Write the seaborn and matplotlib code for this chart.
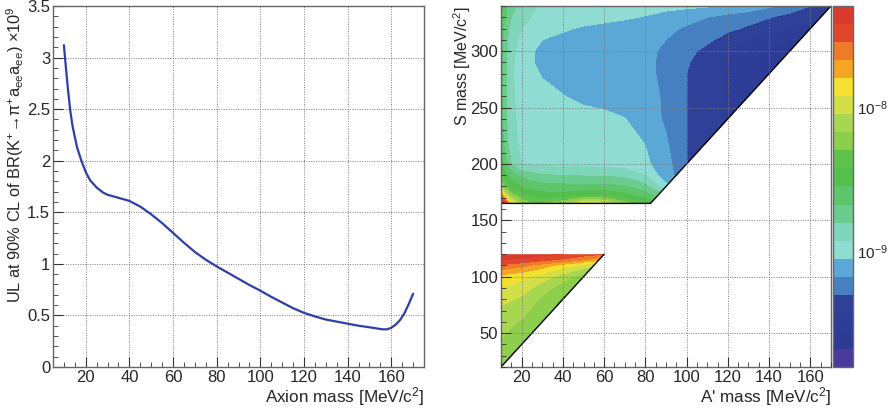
import numpy as np
import matplotlib
matplotlib.use('Agg')
import matplotlib.pyplot as plt
from matplotlib.colors import ListedColormap, LogNorm
from matplotlib.cm import ScalarMappable
from matplotlib.patches import Polygon
from matplotlib.ticker import MultipleLocator, FuncFormatter, FixedLocator, NullFormatter
import seaborn as sns

# ---- left panel: UL on BR(K+ -> pi+ a a) vs axion mass (x 1e-9)
axion_mass = [10, 11, 12, 13, 14, 16, 18, 20, 22, 25, 28, 30, 35, 40, 45, 50, 55, 60, 65, 70,
              75, 80, 85, 90, 95, 100, 105, 110, 115, 120, 125, 130, 135, 140, 145, 150, 153,
              156, 158, 160, 162, 164, 166, 168, 170]
ul_axion = [3.12, 2.88, 2.66, 2.47, 2.33, 2.13, 2.00, 1.89, 1.81, 1.74, 1.69, 1.67, 1.64, 1.61,
            1.555, 1.48, 1.395, 1.30, 1.205, 1.115, 1.04, 0.975, 0.915, 0.855, 0.795, 0.74,
            0.68, 0.625, 0.57, 0.525, 0.49, 0.46, 0.44, 0.42, 0.40, 0.385, 0.375, 0.365, 0.365,
            0.38, 0.41, 0.455, 0.52, 0.61, 0.71]

# ---- right panel: colour scale (log10 of UL), 20 bands
zlog_min = -9.8
zlog_max = -7.3
n_bands = 20
palette = ['#4b3a9d', '#2e3b95', '#2e3d97', '#2f4099', '#4680c0', '#5ba8d6', '#8fdcd2',
           '#7fd6ba', '#6ccb8f', '#5ec56a', '#55bf4d', '#5fc34b', '#8dcf4d', '#a9d650',
           '#d4df48', '#f4e02e', '#f5a524', '#ee7a2a', '#e1462c', '#da3a2c']
cbar_ticks = [1e-9, 1e-8]
cbar_labels = ['10$^{-9}$', '10$^{-8}$']

# region limits (S mass) and lowest A' mass; the other edge is S = 2 A'
a_min = 10
s_range_up = (165, 340)
s_range_lo = (20, 120)

# values read as position on the colour bar (0 = bottom, 20 = top)
a_up = [10, 12, 15, 20, 25, 30, 40, 50, 60, 70, 80, 90, 100, 110, 120, 130, 140, 150, 160, 170]
s_up = [165, 172, 180, 190, 200, 220, 240, 260, 280, 290, 300, 310, 320, 330, 340]
band_up = [
    [20.0, 19.2, 15.5, 13.0, 12.0, 12.0, 12.8, 15.2, 14.6, 12.5, 11.0, 9.5, 8.0, 7.0, 6.0, 5.0, 4.0, 3.0, 3.0, 3.0],
    [18.0, 14.5, 12.5, 11.2, 10.6, 10.4, 10.4, 10.8, 10.8, 10.3, 9.5, 8.0, 7.0, 6.0, 5.0, 4.0, 3.5, 3.0, 3.0, 3.0],
    [13.0, 11.8, 10.8, 10.0, 9.6, 9.4, 9.3, 9.3, 9.3, 9.1, 8.3, 6.3, 5.0, 4.0, 3.5, 3.0, 3.0, 3.0, 3.0, 3.0],
    [11.2, 10.3, 9.5, 8.7, 8.3, 8.1, 7.95, 7.9, 7.85, 7.7, 7.0, 5.3, 4.5, 4.0, 3.5, 3.0, 3.0, 3.0, 3.0, 3.0],
    [10.4, 9.3, 8.0, 6.95, 6.85, 6.8, 6.75, 6.7, 6.65, 6.5, 6.2, 5.4, 4.0, 3.5, 3.0, 2.8, 2.5, 2.5, 2.5, 2.5],
    [9.7, 8.5, 7.3, 6.8, 6.72, 6.68, 6.6, 6.5, 6.4, 6.3, 5.95, 5.1, 4.0, 3.5, 3.0, 2.5, 2.2, 2.0, 2.0, 2.0],
    [9.5, 8.3, 7.2, 6.75, 6.6, 6.5, 6.4, 6.3, 6.2, 6.02, 5.5, 4.85, 4.0, 3.4, 2.8, 2.5, 2.2, 2.0, 2.0, 2.0],
    [9.5, 8.2, 7.15, 6.7, 6.45, 6.3, 6.03, 5.8, 5.7, 5.6, 5.35, 4.85, 4.0, 3.4, 2.8, 2.3, 1.8, 1.5, 1.5, 1.5],
    [9.5, 8.2, 7.1, 6.6, 6.25, 5.92, 5.7, 5.6, 5.55, 5.45, 5.3, 4.7, 4.0, 3.4, 2.8, 2.3, 1.8, 1.5, 1.5, 1.5],
    [9.5, 8.25, 7.15, 6.6, 6.03, 5.88, 5.65, 5.55, 5.5, 5.45, 5.3, 4.7, 4.1, 3.5, 2.9, 2.3, 1.3, 0.9, 0.9, 0.9],
    [9.5, 8.3, 7.25, 6.55, 6.05, 5.85, 5.65, 5.55, 5.5, 5.45, 5.3, 4.75, 4.3, 3.7, 3.1, 2.5, 1.8, 0.9, 0.9, 0.9],
    [9.6, 8.4, 7.4, 6.75, 6.3, 6.0, 5.8, 5.7, 5.6, 5.55, 5.4, 5.0, 4.6, 4.2, 3.6, 3.0, 2.5, 2.0, 1.8, 1.8],
    [9.7, 8.6, 7.6, 7.0, 6.65, 6.45, 6.1, 5.9, 5.75, 5.65, 5.5, 5.25, 4.85, 4.5, 4.2, 3.85, 3.4, 3.0, 2.7, 2.5],
    [10.0, 9.0, 8.0, 7.3, 6.95, 6.75, 6.5, 6.35, 6.25, 6.1, 5.95, 5.7, 5.4, 5.0, 4.6, 4.4, 4.05, 3.6, 3.2, 3.0],
    [10.5, 9.5, 8.4, 7.6, 7.1, 6.9, 6.7, 6.6, 6.5, 6.4, 6.3, 6.25, 6.2, 6.1, 6.0, 5.6, 5.15, 4.7, 4.0, 3.6],
]

a_lo = [10, 20, 30, 40, 50, 60]
s_lo = [20, 40, 60, 80, 90, 100, 110, 115, 120]
band_lo = [
    [12.7, 12.4, 11.8, 11.0, 10.4, 10.0],
    [12.9, 12.0, 11.6, 11.0, 10.4, 10.0],
    [13.3, 12.9, 12.2, 11.3, 10.5, 10.0],
    [14.3, 13.8, 12.8, 11.8, 11.0, 10.5],
    [15.0, 14.5, 13.5, 12.5, 11.5, 11.0],
    [15.6, 15.2, 14.5, 13.5, 12.5, 12.0],
    [17.8, 17.3, 16.5, 15.5, 14.5, 13.5],
    [19.0, 18.8, 18.3, 17.8, 17.0, 16.0],
    [19.8, 19.6, 19.3, 19.0, 18.5, 18.0],
]

sns.set_style("ticks")
plt.rcParams['font.family'] = ['Liberation Sans', 'DejaVu Sans']
plt.rcParams['mathtext.default'] = 'regular'
plt.rcParams['axes.edgecolor'] = '#666666'
plt.rcParams['axes.linewidth'] = 1.0

fig = plt.figure(figsize=(8.88, 4.13), dpi=100)
ax1 = fig.add_axes([0.0597, 0.1114, 0.4178, 0.8741])
ax2 = fig.add_axes([0.5642, 0.1114, 0.3716, 0.8741])
cax = fig.add_axes([0.9381, 0.1114, 0.0225, 0.8741])

grid_kw = dict(linestyle=(0, (1, 1.5)), color='#7a7a7a', linewidth=0.7)
label_size = 12.3
tick_size = 12


def style_axes(ax):
    ax.tick_params(which='both', direction='in', top=False, right=False,
                   color='#333333', labelsize=tick_size, pad=2)
    ax.tick_params(which='major', length=7)
    ax.tick_params(which='minor', length=3.5)
    ax.grid(True, which='major', **grid_kw)
    for sp in ax.spines.values():
        sp.set_visible(True)
        sp.set_color('#666666')


# left panel
sns.lineplot(x=axion_mass, y=ul_axion, ax=ax1, color='#2d3fa8', linewidth=1.6)
ax1.set_xlim(5, 175)
ax1.set_ylim(0, 3.5)
ax1.xaxis.set_major_locator(MultipleLocator(20))
ax1.xaxis.set_minor_locator(MultipleLocator(5))
ax1.yaxis.set_major_locator(MultipleLocator(0.5))
ax1.yaxis.set_minor_locator(MultipleLocator(0.1))
ax1.yaxis.set_major_formatter(FuncFormatter(lambda v, p: '%g' % v))
style_axes(ax1)
ax1.set_xlabel('Axion mass [MeV/$c^{2}$]', fontsize=label_size, loc='right')
ax1.set_ylabel('UL at 90% CL of BR(K$^{+}$→π$^{+}$a$_{ee}$a$_{ee}$) ×10$^{9}$',
               fontsize=11.8, loc='top')
ax1.xaxis.set_label_coords(1.0, -0.05)
ax1.yaxis.set_label_coords(-0.072, 1.0)

# right panel
cmap = ListedColormap(palette)
levels = np.linspace(zlog_min, zlog_max, n_bands + 1)
scale = (zlog_max - zlog_min) / n_bands

regions = [
    (a_up, s_up, band_up, s_range_up),
    (a_lo, s_lo, band_lo, s_range_lo),
]
for a_vals, s_vals, bands, (s0, s1) in regions:
    z = zlog_min + np.array(bands) * scale
    cs = ax2.contourf(a_vals, s_vals, z, levels=levels, cmap=cmap,
                      vmin=zlog_min, vmax=zlog_max, extend='both')
    if s0 / 2 >= a_min:
        corners = [(a_min, s0), (s0 / 2, s0), (s1 / 2, s1), (a_min, s1)]
        edge_a, edge_s = [a_min, s0 / 2, s1 / 2], [s0, s0, s1]
    else:
        corners = [(a_min, 2 * a_min), (s1 / 2, s1), (a_min, s1)]
        edge_a, edge_s = [a_min, s1 / 2, a_min], [s1, s1, 2 * a_min]
    cs.set_clip_path(Polygon(corners, closed=True, transform=ax2.transData))
    # black outline: lower/upper edge and the S = 2A' diagonal
    ax2.plot(edge_a, edge_s, color='black', linewidth=1.0)

ax2.set_xlim(10, 170)
ax2.set_ylim(20, 340)
ax2.xaxis.set_major_locator(MultipleLocator(20))
ax2.xaxis.set_minor_locator(MultipleLocator(5))
ax2.yaxis.set_major_locator(MultipleLocator(50))
ax2.yaxis.set_minor_locator(MultipleLocator(10))
style_axes(ax2)
ax2.set_axisbelow(False)
ax2.set_xlabel("A' mass [MeV/$c^{2}$]", fontsize=label_size, loc='right')
ax2.set_ylabel('S mass [MeV/$c^{2}$]', fontsize=11.5, loc='top')
ax2.xaxis.set_label_coords(1.0, -0.05)
ax2.yaxis.set_label_coords(-0.085, 1.0)

# colour bar
sm = ScalarMappable(norm=LogNorm(10 ** zlog_min, 10 ** zlog_max), cmap=cmap)
cb = fig.colorbar(sm, cax=cax)
cax.set_ylim(10 ** zlog_min, 10 ** zlog_max)
cax.yaxis.set_major_locator(FixedLocator(cbar_ticks))
cax.yaxis.set_major_formatter(FuncFormatter(lambda v, p: cbar_labels[cbar_ticks.index(v)] if v in cbar_ticks else ''))
minor = [m * d for d in [1e-10, 1e-9, 1e-8] for m in range(2, 10)]
cax.yaxis.set_minor_locator(FixedLocator([m for m in minor if 10 ** zlog_min <= m <= 10 ** zlog_max]))
cax.yaxis.set_minor_formatter(NullFormatter())
cb.outline.set_edgecolor('#666666')
cax.tick_params(which='both', direction='in', right=True, left=False,
                color='#333333', labelsize=11, pad=3)
cax.tick_params(which='major', length=7)
cax.tick_params(which='minor', length=3.5)

fig.savefig('out.png', dpi=100)
